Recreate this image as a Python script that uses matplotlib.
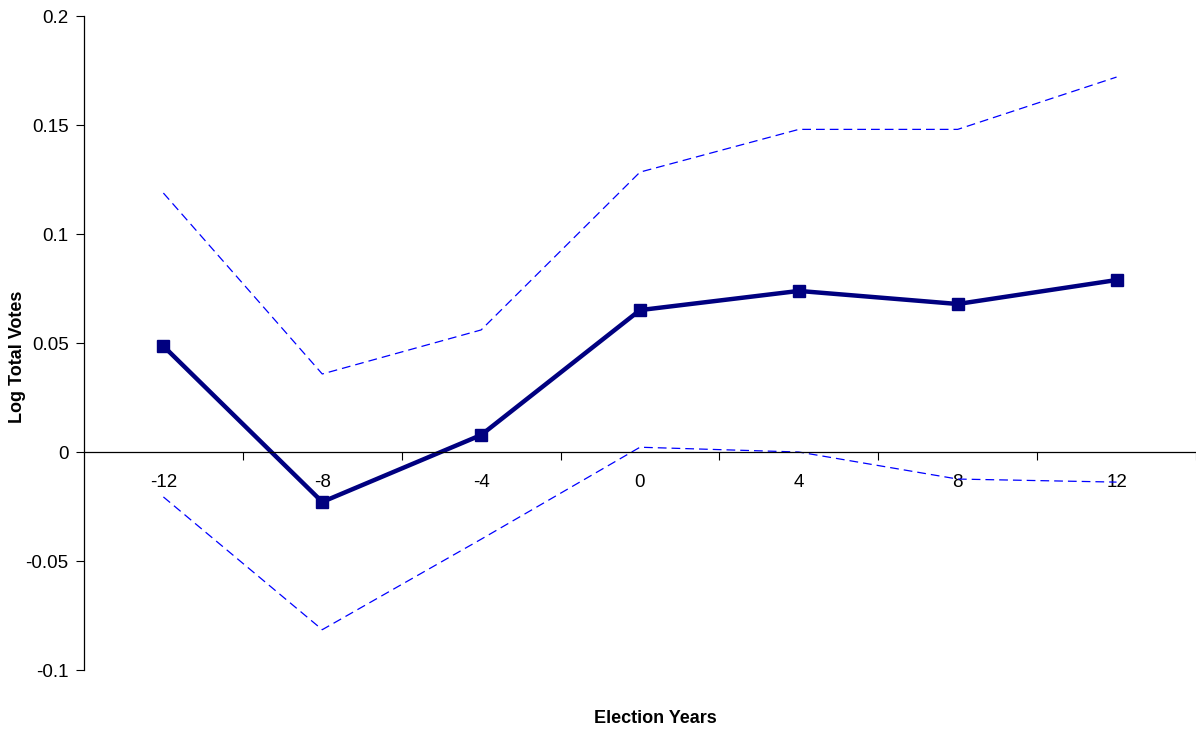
import numpy as np
import matplotlib.pyplot as plt

plt.rcParams['font.family'] = ['Liberation Sans', 'DejaVu Sans']

# -----------------------------
# data
# -----------------------------
years = ["-12", "-8", "-4", "0", "4", "8", "12"]
estimate = [0.0486, -0.0229, 0.0078, 0.0651, 0.0739, 0.0679, 0.0789]
upper = [0.1188, 0.0358, 0.0560, 0.1284, 0.1480, 0.1480, 0.1720]
lower = [-0.0206, -0.0815, -0.0400, 0.0022, 0.0000, -0.0124, -0.0138]

x = np.arange(len(years))

fig = plt.figure(figsize=(11.96, 7.35), dpi=100)
ax = fig.add_axes([0.0702, 0.0884, 0.9298, 0.8898])

ax.plot(x, upper, color="#0000ff", lw=0.9, dashes=(7, 4))
ax.plot(x, lower, color="#0000ff", lw=0.9, dashes=(7, 4))
ax.plot(x, estimate, color="#000080", lw=3.2, marker="s", markersize=9,
        solid_joinstyle="miter")

ax.set_xlim(-0.5, len(years) - 0.5)
ax.set_ylim(-0.1, 0.2)
ax.set_yticks([-0.1, -0.05, 0, 0.05, 0.1, 0.15, 0.2])
ax.set_yticklabels(["-0.1", "-0.05", "0", "0.05", "0.1", "0.15", "0.2"])

# category ticks sit between categories, labels on categories
ax.set_xticks(x + 0.5)
ax.set_xticklabels([])
ax.set_xticks(x, minor=True)
ax.set_xticklabels(years, minor=True)
ax.tick_params(axis="x", which="minor", length=0, pad=16, labelsize=13.5)
ax.tick_params(axis="x", which="major", direction="out", length=6, width=0.8)
ax.tick_params(axis="y", direction="out", length=6, width=0.8, labelsize=13.5, pad=5)

ax.spines["bottom"].set_position(("data", 0))
ax.spines["top"].set_visible(False)
ax.spines["right"].set_visible(False)
for s in ["left", "bottom"]:
    ax.spines[s].set_linewidth(0.9)

fig.text(0.0145, 0.514, "Log Total Votes", fontsize=13, fontweight="bold",
         rotation=90, ha="center", va="center")
fig.text(0.548, 0.023, "Election Years", fontsize=13, fontweight="bold",
         ha="center", va="center")

plt.savefig("out.png", dpi=100)
